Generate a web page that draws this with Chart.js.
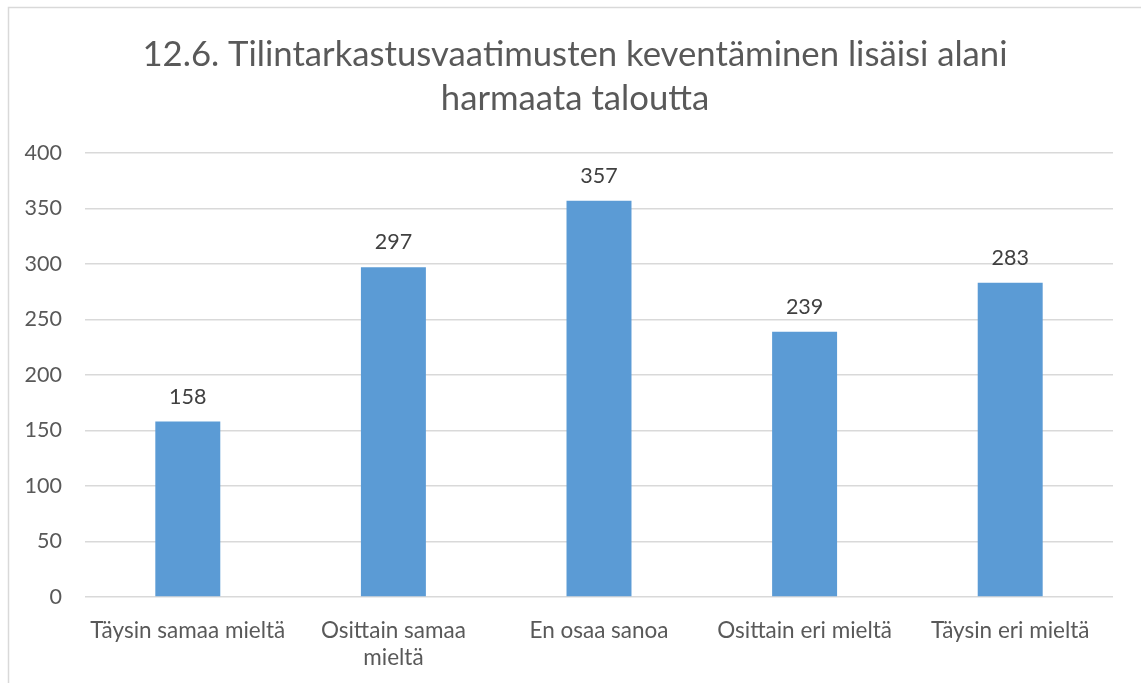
<!DOCTYPE html>
<html>
<head>
<meta charset="utf-8">
<script src="https://cdn.jsdelivr.net/npm/chart.js@4/dist/chart.umd.min.js"></script>
<style>
  html, body { margin: 0; padding: 0; background: #fff; }
  #wrap { width: 1141px; height: 683px; position: relative; }
</style>
</head>
<body>
<div id="wrap"><canvas id="chart" width="1141" height="683"></canvas></div>
<script>
const categories = [
  'Täysin samaa mieltä',
  ['Osittain samaa', 'mieltä'],
  'En osaa sanoa',
  'Osittain eri mieltä',
  'Täysin eri mieltä'
]
const answers = [158, 297, 357, 239, 283]
const titleLines = ['12.6. Tilintarkastusvaatimusten keventäminen lisäisi alani', 'harmaata taloutta']

const textColor = '#595959'
const fontFamily = 'Lato, "Open Sans", "Noto Sans", sans-serif'

// draws the value above each bar
const valueLabels = {
  id: 'valueLabels',
  afterDatasetsDraw (chart) {
    const ctx = chart.ctx
    const meta = chart.getDatasetMeta(0)
    ctx.save()
    ctx.fillStyle = '#404040'
    ctx.font = '21.5px ' + fontFamily
    ctx.textAlign = 'center'
    ctx.textBaseline = 'middle'
    meta.data.forEach((bar, i) => {
      ctx.fillText(String(chart.data.datasets[0].data[i]), bar.x, bar.y - 25)
    })
    ctx.restore()
  }
}

// chart frame (only left and top edges show) and the title, centred on the frame
const frame = {
  id: 'frame',
  beforeDraw (chart) {
    const ctx = chart.ctx
    ctx.save()
    ctx.strokeStyle = '#D9D9D9'
    ctx.lineWidth = 1.5
    ctx.beginPath()
    ctx.moveTo(8.5, chart.height)
    ctx.lineTo(8.5, 7.5)
    ctx.lineTo(chart.width, 7.5)
    ctx.stroke()

    ctx.fillStyle = textColor
    ctx.font = '34.7px ' + fontFamily
    ctx.textAlign = 'center'
    ctx.textBaseline = 'middle'
    titleLines.forEach((line, i) => {
      ctx.fillText(line, 575, 55 + i * 44)
    })
    ctx.restore()
  }
}

const ctx = document.getElementById('chart').getContext('2d')
new Chart(ctx, {
  type: 'bar',
  data: {
    labels: categories,
    datasets: [{
      data: answers,
      backgroundColor: '#5B9BD5',
      borderWidth: 0,
      categoryPercentage: 1,
      barPercentage: 0.316
    }]
  },
  options: {
    responsive: false,
    animation: false,
    layout: { padding: { left: 8, right: 28, top: 153, bottom: 0 } },
    plugins: {
      legend: { display: false },
      tooltip: { enabled: false },
      title: { display: false }
    },
    scales: {
      x: {
        grid: { display: false, drawTicks: false },
        border: { display: false },
        ticks: {
          color: textColor,
          font: { family: fontFamily, size: 22.5, lineHeight: 1.2 },
          padding: 20,
          maxRotation: 0
        },
        afterFit (scale) { scale.height = 86 }
      },
      y: {
        min: 0,
        max: 400,
        ticks: {
          stepSize: 50,
          color: textColor,
          font: { family: fontFamily, size: 21.5 },
          padding: 23
        },
        grid: { color: '#D9D9D9', lineWidth: 1.5, drawTicks: false },
        border: { display: false },
        afterFit (scale) { scale.width = 77 }
      }
    }
  },
  plugins: [frame, valueLabels]
})
</script>
</body>
</html>
